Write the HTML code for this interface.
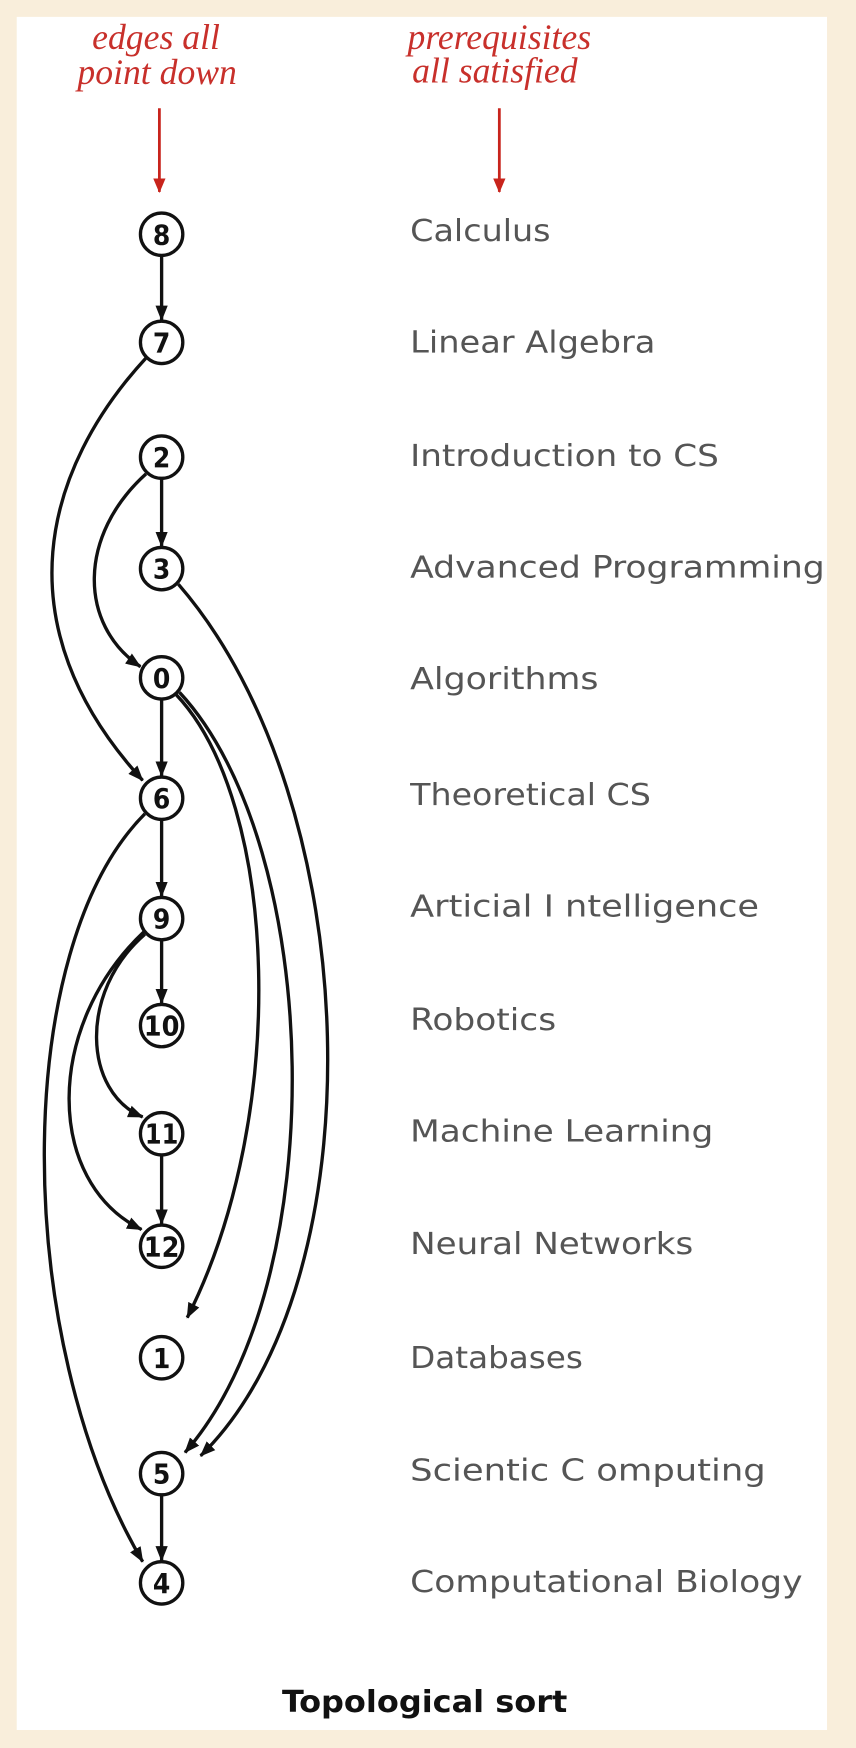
<!DOCTYPE html>
<html><head><meta charset="utf-8"><style>html,body{margin:0;padding:0;background:#f9eedb}svg{display:block}</style></head>
<body>
<svg width="856" height="1748" viewBox="0 0 768 1568" xmlns="http://www.w3.org/2000/svg">
<defs>
<marker id="a" markerWidth="16" markerHeight="14" refX="13" refY="6" orient="auto" markerUnits="userSpaceOnUse"><path d="M0,0.5 L14,6 L0,11.5 Z" fill="#111"/></marker>
<marker id="r" markerWidth="14" markerHeight="14" refX="12" refY="7" orient="auto" markerUnits="userSpaceOnUse"><path d="M0,1.5 L13,7 L0,12.5 Z" fill="#c8241c"/></marker>
</defs>
<rect x="0" y="0" width="768" height="1568" fill="#f9eedb"/>
<rect x="15" y="15" width="727" height="1537" fill="#fff"/>
<g font-family="Liberation Serif, serif" font-style="italic" font-size="32" fill="#c8302b" text-anchor="middle">
<text x="140" y="44">edges all</text><text x="141" y="75">point down</text>
<text x="448" y="44">prerequisites</text><text x="444" y="74">all satisfied</text>
</g>
<g stroke="#c8241c" stroke-width="2.5" marker-end="url(#r)">
<line x1="143" y1="97" x2="143" y2="172"/><line x1="448" y1="97" x2="448" y2="172"/>
</g>
<g stroke="#111" stroke-width="3" fill="none" marker-end="url(#a)">
<line x1="145" y1="229" x2="145" y2="287"/>
<line x1="145" y1="429" x2="145" y2="490"/>
<line x1="145" y1="627" x2="145" y2="696"/>
<line x1="145" y1="735" x2="145" y2="804"/>
<line x1="145" y1="843" x2="145" y2="900"/>
<line x1="145" y1="1036" x2="145" y2="1098"/>
<line x1="145" y1="1341" x2="145" y2="1400"/>
<path d="M131,321 C40,420 0,560 128,700"/>
<path d="M131,425 C70,480 70,560 126,598"/>
<path d="M160,524 C330,720 340,1150 180,1306"/>
<path d="M158,623 C250,720 260,1000 168,1182"/>
<path d="M161,621 C290,760 300,1150 166,1303"/>
<path d="M130,730 C10,850 10,1200 128,1401"/>
<path d="M130,838 C70,890 75,980 128,1002"/>
<path d="M129,836 C40,920 40,1060 127,1103"/>
</g>
<g stroke="#111" stroke-width="3" fill="#fff">
<circle cx="145" cy="210" r="19"/><circle cx="145" cy="307" r="19"/><circle cx="145" cy="410" r="19"/>
<circle cx="145" cy="510" r="19"/><circle cx="145" cy="608" r="19"/><circle cx="145" cy="716" r="19"/>
<circle cx="145" cy="824" r="19"/><circle cx="145" cy="920" r="19"/><circle cx="145" cy="1017" r="19"/>
<circle cx="145" cy="1118" r="19"/><circle cx="145" cy="1218" r="19"/><circle cx="145" cy="1322" r="19"/>
<circle cx="145" cy="1420" r="19"/>
</g>
<g font-family="DejaVu Sans Condensed, DejaVu Sans, sans-serif" font-weight="bold" font-size="25" fill="#111" text-anchor="middle">
<text x="145" y="219">8</text><text x="145" y="316">7</text><text x="145" y="419">2</text>
<text x="145" y="519">3</text><text x="145" y="617">0</text><text x="145" y="725">6</text>
<text x="145" y="833">9</text><text x="145" y="929" textLength="32" lengthAdjust="spacingAndGlyphs">10</text>
<text x="145" y="1026" textLength="30" lengthAdjust="spacingAndGlyphs">11</text>
<text x="145" y="1127" textLength="32" lengthAdjust="spacingAndGlyphs">12</text>
<text x="145" y="1227">1</text><text x="145" y="1331">5</text><text x="145" y="1429">4</text>
</g>
<g font-family="DejaVu Sans Condensed, DejaVu Sans, sans-serif" font-size="27" fill="#555">
<text x="368" y="216" textLength="126" lengthAdjust="spacingAndGlyphs">Calculus</text>
<text x="368" y="316" textLength="220" lengthAdjust="spacingAndGlyphs">Linear Algebra</text>
<text x="368" y="418" textLength="277" lengthAdjust="spacingAndGlyphs">Introduction to CS</text>
<text x="368" y="518" textLength="372" lengthAdjust="spacingAndGlyphs">Advanced Programming</text>
<text x="368" y="618" textLength="169" lengthAdjust="spacingAndGlyphs">Algorithms</text>
<text x="368" y="722" textLength="216" lengthAdjust="spacingAndGlyphs">Theoretical CS</text>
<text x="368" y="822" textLength="313" lengthAdjust="spacingAndGlyphs">Articial I  ntelligence</text>
<text x="368" y="924" textLength="131" lengthAdjust="spacingAndGlyphs">Robotics</text>
<text x="368" y="1024" textLength="272" lengthAdjust="spacingAndGlyphs">Machine Learning</text>
<text x="368" y="1125" textLength="254" lengthAdjust="spacingAndGlyphs">Neural Networks</text>
<text x="368" y="1227" textLength="155" lengthAdjust="spacingAndGlyphs">Databases</text>
<text x="368" y="1328" textLength="319" lengthAdjust="spacingAndGlyphs">Scientic C  omputing</text>
<text x="368" y="1428" textLength="352" lengthAdjust="spacingAndGlyphs">Computational Biology</text>
</g>
<text x="381" y="1536" font-family="DejaVu Sans Condensed, DejaVu Sans, sans-serif" font-weight="bold" font-size="27" fill="#111" text-anchor="middle" textLength="256" lengthAdjust="spacingAndGlyphs">Topological sort</text>
</svg>
</body></html>
